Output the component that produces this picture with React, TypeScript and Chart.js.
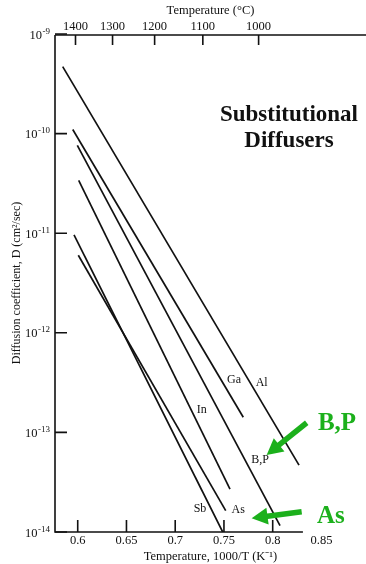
import React, { useEffect, useRef } from 'react';
import { Chart, registerables } from 'chart.js';

Chart.register(...registerables);

// Diffusing elements (one straight Arrhenius line each)
const elements = ['Al', 'Ga', 'B,P', 'In', 'Sb', 'As'];
// 1000/T (K^-1) at line start and end
const invTStart = [0.5846, 0.5949, 0.5996, 0.601, 0.5962, 0.6006];
const invTEnd = [0.827, 0.7698, 0.8075, 0.7562, 0.7487, 0.7518];
// Diffusion coefficient D (cm^2/sec) at line start and end
const dStart = [4.7e-10, 1.1e-10, 7.6e-11, 3.4e-11, 9.6e-12, 6.0e-12];
const dEnd = [4.7e-14, 1.42e-13, 1.16e-14, 2.7e-14, 1.0e-14, 1.64e-14];

// Label anchor for each line (data coordinates)
const labelInvT = [0.7887, 0.7603, 0.787, 0.7272, 0.7254, 0.7647];
const labelD = [3.15e-13, 3.36e-13, 5.28e-14, 1.68e-13, 1.7e-14, 1.66e-14];

// Axis ticks
const xTicks = [0.6, 0.65, 0.7, 0.75, 0.8, 0.85];
const celsiusTicks = [1400, 1300, 1200, 1100, 1000];
const yTicks = [1e-14, 1e-13, 1e-12, 1e-11, 1e-10, 1e-9];
const yTickExponents = ['-14', '-13', '-12', '-11', '-10', '-9'];

const xMin = 0.5767;
const xMax = 0.8957;
const bottomAxisEnd = 0.831;
const yMin = 1e-14;
const yMax = 1e-9;

// Annotations
const headingLines = ['Substitutional', 'Diffusers'];
const headingInvT = 0.8167;
const headingD = [1.35e-10, 7.38e-11];

const greenLabels = ['B,P', 'As'];
const greenLabelInvT = [0.8464, 0.8454];
const greenLabelD = [1.057e-13, 1.23e-14];
const arrowTailInvT = [0.8349, 0.8297];
const arrowTailD = [1.25e-13, 1.6e-14];
const arrowTipInvT = [0.7938, 0.7784];
const arrowTipD = [5.93e-14, 1.374e-14];

const SERIF = "'Liberation Serif', 'Times New Roman', serif";
const GREEN = '#1cb01c';

const decorPlugin = {
  id: 'decor',
  afterDraw(chart: any) {
    const { ctx, chartArea } = chart;
    const x = chart.scales.x;
    const y = chart.scales.y;
    const x2 = chart.scales.x2;
    const { left, right, top, bottom } = chartArea;
    ctx.save();
    ctx.strokeStyle = '#111';
    ctx.lineWidth = 1.6;
    ctx.lineCap = 'butt';
    // axes
    ctx.beginPath();
    ctx.moveTo(left, top + 1);
    ctx.lineTo(left, bottom);
    ctx.lineTo(x.getPixelForValue(bottomAxisEnd), bottom);
    ctx.moveTo(left, top + 1);
    ctx.lineTo(right, top + 1);
    ctx.stroke();
    // ticks
    ctx.beginPath();
    yTicks.forEach((v) => {
      const py = y.getPixelForValue(v);
      ctx.moveTo(left, py);
      ctx.lineTo(left + 12, py);
    });
    xTicks.forEach((v) => {
      if (v > bottomAxisEnd) return;
      const px = x.getPixelForValue(v);
      ctx.moveTo(px, bottom);
      ctx.lineTo(px, bottom - 12);
    });
    celsiusTicks.forEach((t) => {
      const px = x2.getPixelForValue(1000 / (t + 273));
      ctx.moveTo(px, top + 1);
      ctx.lineTo(px, top + 11);
    });
    ctx.stroke();

    // y tick labels: 10 with superscript exponent
    ctx.fillStyle = '#111';
    ctx.textBaseline = 'alphabetic';
    ctx.textAlign = 'right';
    yTicks.forEach((v, i) => {
      const py = y.getPixelForValue(v);
      const rx = left - 5;
      ctx.font = `9px ${SERIF}`;
      const ew = ctx.measureText(yTickExponents[i]).width;
      ctx.fillText(yTickExponents[i], rx, py - 0.5);
      ctx.font = `12.5px ${SERIF}`;
      ctx.fillText('10', rx - ew - 0.5, py + 4.5);
    });

    // line labels
    ctx.font = `12px ${SERIF}`;
    ctx.textAlign = 'center';
    ctx.textBaseline = 'middle';
    elements.forEach((name, i) => {
      ctx.fillText(name, x.getPixelForValue(labelInvT[i]), y.getPixelForValue(labelD[i]));
    });

    // heading
    ctx.font = `bold 23px ${SERIF}`;
    ctx.textBaseline = 'alphabetic';
    headingLines.forEach((t, i) => {
      ctx.fillText(t, x.getPixelForValue(headingInvT), y.getPixelForValue(headingD[i]));
    });

    // green arrows
    ctx.fillStyle = GREEN;
    ctx.strokeStyle = GREEN;
    greenLabels.forEach((t, i) => {
      const tx = x.getPixelForValue(arrowTailInvT[i]);
      const ty = y.getPixelForValue(arrowTailD[i]);
      const hx = x.getPixelForValue(arrowTipInvT[i]);
      const hy = y.getPixelForValue(arrowTipD[i]);
      const dx = hx - tx;
      const dy = hy - ty;
      const len = Math.hypot(dx, dy);
      const ux = dx / len;
      const uy = dy / len;
      const headLen = 16;
      const headW = 17;
      const bx = hx - ux * headLen;
      const by = hy - uy * headLen;
      ctx.lineWidth = 5.5;
      ctx.beginPath();
      ctx.moveTo(tx, ty);
      ctx.lineTo(bx + ux * 2, by + uy * 2);
      ctx.stroke();
      ctx.beginPath();
      ctx.moveTo(hx, hy);
      ctx.lineTo(bx - uy * headW / 2, by + ux * headW / 2);
      ctx.lineTo(bx + uy * headW / 2, by - ux * headW / 2);
      ctx.closePath();
      ctx.fill();
      ctx.font = `bold 25px ${SERIF}`;
      ctx.textAlign = 'left';
      ctx.textBaseline = 'alphabetic';
      ctx.fillText(t, x.getPixelForValue(greenLabelInvT[i]), y.getPixelForValue(greenLabelD[i]));
    });
    ctx.restore();
  },
};

export default function App() {
  const ref = useRef<HTMLCanvasElement | null>(null);

  useEffect(() => {
    if (!ref.current) return;
    const datasets = elements.map((name, i) => ({
      label: name,
      data: [
        { x: invTStart[i], y: dStart[i] },
        { x: invTEnd[i], y: dEnd[i] },
      ],
      showLine: true,
      borderColor: '#111',
      backgroundColor: '#111',
      borderWidth: 1.7,
      pointRadius: 0,
      pointHoverRadius: 0,
    }));

    const tickFont = { family: SERIF, size: 12.5 };
    const titleFont = { family: SERIF, size: 12.5 };

    const chart = new Chart(ref.current, {
      type: 'scatter',
      data: { datasets },
      options: {
        animation: false,
        responsive: false,
        events: [],
        layout: { padding: 0 },
        plugins: {
          legend: { display: false },
          tooltip: { enabled: false },
        },
        scales: {
          x: {
            type: 'linear',
            position: 'bottom',
            min: xMin,
            max: xMax,
            grid: { display: false, drawTicks: false },
            border: { display: false },
            afterBuildTicks: (s: any) => {
              s.ticks = xTicks.map((v) => ({ value: v }));
            },
            afterFit: (s: any) => {
              s.height = 32;
            },
            ticks: {
              padding: 1,
              color: '#111',
              font: tickFont,
              maxRotation: 0,
              autoSkip: false,
              callback: (v: any) => String(Number(Number(v).toFixed(2))),
            },
            title: {
              display: true,
              text: 'Temperature, 1000/T (K⁻¹)',
              color: '#111',
              font: titleFont,
              padding: { top: 0, bottom: 0 },
            },
          },
          x2: {
            type: 'linear',
            position: 'top',
            min: xMin,
            max: xMax,
            grid: { display: false, drawTicks: false },
            border: { display: false },
            afterBuildTicks: (s: any) => {
              s.ticks = celsiusTicks.map((t) => ({ value: 1000 / (t + 273) }));
            },
            afterFit: (s: any) => {
              s.height = 34;
            },
            ticks: {
              padding: 0,
              color: '#111',
              font: tickFont,
              maxRotation: 0,
              autoSkip: false,
              callback: (v: any) => String(Math.round(1000 / Number(v) - 273)),
            },
            title: {
              display: true,
              text: 'Temperature (°C)',
              color: '#111',
              font: titleFont,
              padding: { top: 3, bottom: 0 },
            },
          },
          y: {
            type: 'logarithmic',
            position: 'left',
            min: yMin,
            max: yMax,
            grid: { display: false, drawTicks: false },
            border: { display: false },
            afterBuildTicks: (s: any) => {
              s.ticks = yTicks.map((v) => ({ value: v }));
            },
            afterFit: (s: any) => {
              s.width = 55;
            },
            ticks: {
              display: false,
            },
            title: {
              display: true,
              text: 'Diffusion coefficient, D (cm²/sec)',
              color: '#111',
              font: { family: SERIF, size: 12 },
              padding: { top: 10, bottom: 0 },
            },
          },
        },
      },
      plugins: [decorPlugin],
    } as any);

    return () => chart.destroy();
  }, []);

  return (
    <div style={{ position: 'absolute', left: 0, top: 0, width: 366, height: 564, background: '#fff' }}>
      <canvas ref={ref} width={366} height={564} style={{ display: 'block' }} />
    </div>
  );
}
